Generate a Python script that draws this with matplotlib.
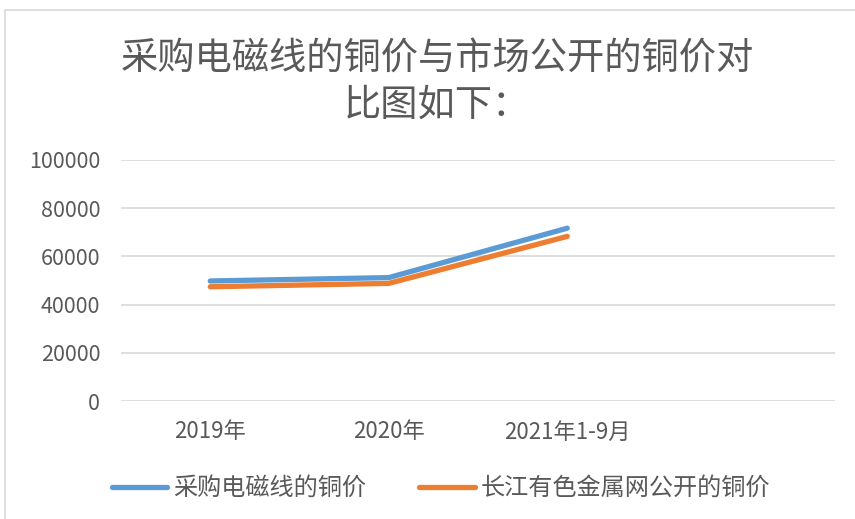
import matplotlib
matplotlib.use('Agg')
import matplotlib.pyplot as plt
from matplotlib.patches import Rectangle

plt.rcParams['font.family'] = ['Noto Sans CJK SC', 'DejaVu Sans']

# data
categories = ['2019年', '2020年', '2021年1-9月', '']
purchase_price = [49800, 51200, 71700]
market_price = [47400, 48800, 68300]
series_names = ['采购电磁线的铜价', '长江有色金属网公开的铜价']
yticks = [0, 20000, 40000, 60000, 80000, 100000]

TEXT = '#595959'
GRID = '#D9D9D9'

fig = plt.figure(figsize=(8.55, 5.19), dpi=100)
# chart border
fig.patches.append(Rectangle((5 / 855, -0.1), 1.0, 1 - 10 / 519 + 0.1,
                             transform=fig.transFigure, fill=False,
                             edgecolor=GRID, linewidth=1.2))

ax = fig.add_axes([121 / 855, 1 - 401 / 519, (835 - 121) / 855, (401 - 160) / 519])
x = list(range(len(categories)))
ax.plot(x[:3], purchase_price, color='#5B9BD5', lw=3.8, solid_capstyle='round',
        solid_joinstyle='round', label=series_names[0], zorder=3)
ax.plot(x[:3], market_price, color='#ED7D31', lw=3.8, solid_capstyle='round',
        solid_joinstyle='round', label=series_names[1], zorder=3)

ax.set_xlim(-0.5, len(categories) - 0.5)
ax.set_ylim(0, 100000)
ax.set_yticks(yticks)
ax.set_yticklabels([str(v) for v in yticks])
ax.set_xticks(x)
ax.set_xticklabels(categories)
ax.grid(axis='y', color=GRID, lw=1.2)
ax.set_axisbelow(True)
for s in ax.spines.values():
    s.set_visible(False)
ax.tick_params(axis='y', length=0, pad=15, labelsize=15.5, labelcolor=TEXT)
ax.tick_params(axis='x', length=0, pad=14, labelsize=16, labelcolor=TEXT)

fig.text(437 / 855, 1 - 81.5 / 519, '采购电磁线的铜价与市场公开的铜价对\n比图如下：',
         ha='center', va='center', fontsize=26.8, color=TEXT, linespacing=1.28,
         fontweight='light')

fig.legend(loc='center', bbox_to_anchor=(441 / 855, 1 - 488 / 519), ncol=2,
           frameon=False, fontsize=17.4, labelcolor=TEXT, handlelength=2.3,
           handletextpad=0.25, columnspacing=2.2)

fig.savefig('out.png', dpi=100)
